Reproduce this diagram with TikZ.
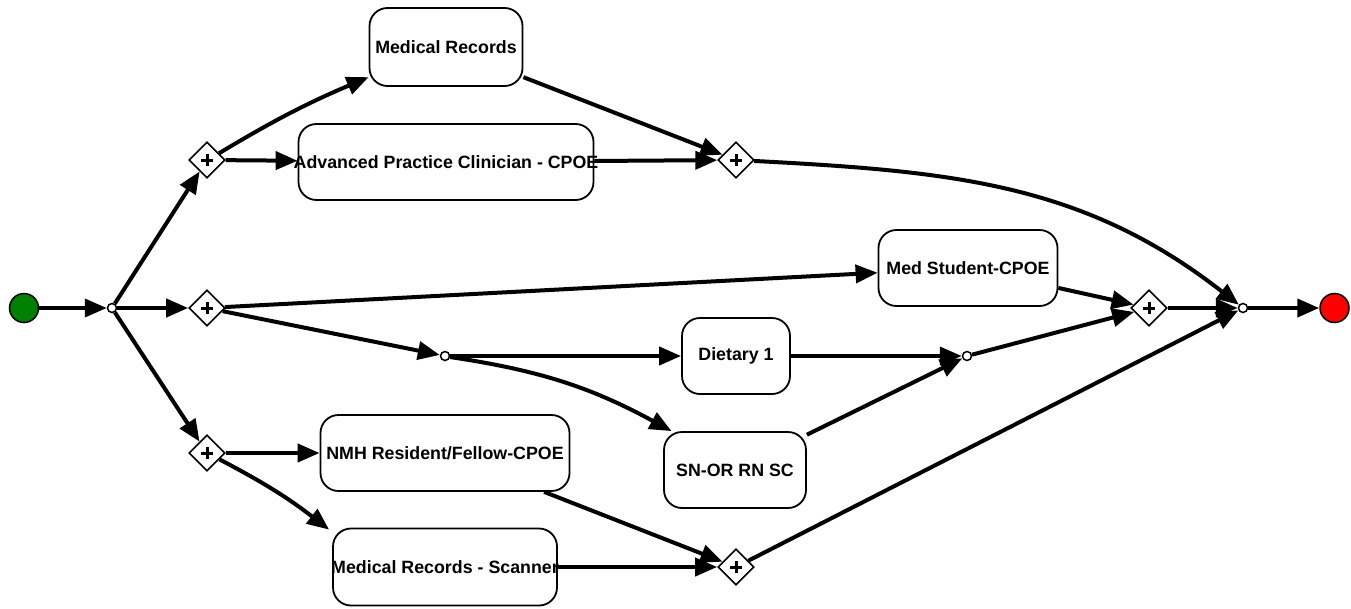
\documentclass[tikz,border=0pt]{standalone}
\usepackage{fontspec}
\setmainfont{Liberation Sans}
\usetikzlibrary{shapes.geometric, arrows.meta, positioning}
\definecolor{startgreen}{HTML}{008000}
\definecolor{endred}{HTML}{FF0000}
\definecolor{flowblack}{HTML}{000000}
\tikzset{
  taskbox/.style={rectangle, draw=black, fill=white, line width=1.8pt,
                  rounded corners=18pt, minimum height=76pt, inner sep=0pt,
                  align=center, font=\fontsize{17.8}{20}\selectfont\bfseries},
  gateway/.style={diamond, draw=black, fill=white, line width=1.6pt,
                  minimum width=36pt, minimum height=36pt, inner sep=0pt,
                  path picture={
                    \draw[line width=3pt]
                      ([xshift=-6pt]path picture bounding box.center) --
                      ([xshift=6pt]path picture bounding box.center)
                      ([yshift=-6pt]path picture bounding box.center) --
                      ([yshift=6pt]path picture bounding box.center);}},
  junction/.style={circle, draw=black, fill=white, line width=1.5pt,
                   minimum size=9pt, inner sep=0pt},
  startev/.style={circle, draw=black, fill=startgreen, line width=1.5pt,
                  minimum size=29pt, inner sep=0pt},
  endev/.style={circle, draw=black, fill=endred, line width=1.5pt,
                minimum size=29pt, inner sep=0pt},
  flow/.style={-{Triangle[length=22pt,width=18pt]}, line width=4pt, draw=flowblack},
}
\begin{document}
\begin{tikzpicture}[x=1pt, y=1pt]
  \useasboundingbox (0,0) rectangle (1351,-608);

  % --- entry: start event and first split ---
  \node[startev] (start) at (24,-308) {};
  \node[junction] (split) at (112,-308) {};
  \node[gateway] (gtop) at (207,-160) {};
  \node[gateway] (gmid) at (207,-308) {};
  \node[gateway] (gbot) at (207,-453) {};

  % --- upper branch ---
  \node[taskbox, minimum width=153pt, minimum height=78pt] (medrec) at (446,-47) {Medical Records};
  \node[taskbox, minimum width=295pt] (apc) at (446,-162)
       {\makebox[0pt]{Advanced Practice Clinician - CPOE}};
  \node[gateway] (gtopjoin) at (736,-160) {};

  % --- middle branch ---
  \node[taskbox, minimum width=179pt] (medstud) at (968,-268) {Med Student-CPOE};
  \node[junction] (midsplit) at (445,-356) {};
  \node[taskbox, minimum width=108pt] (dietary) at (736,-356) {Dietary 1};
  \node[taskbox, minimum width=142pt] (snor) at (735,-470) {SN-OR RN SC};
  \node[junction] (midmerge) at (967,-356) {};
  \node[gateway] (gmidjoin) at (1149,-308) {};

  % --- lower branch ---
  \node[taskbox, minimum width=249pt] (nmh) at (445,-453) {NMH Resident/Fellow-CPOE};
  \node[taskbox, minimum width=224pt, minimum height=77pt] (scanner) at (445,-567)
       {\makebox[0pt]{Medical Records - Scanner}};
  \node[gateway] (gbotjoin) at (736,-567) {};

  % --- exit ---
  \node[junction] (merge) at (1243,-308) {};
  \node[endev, right=71pt of merge] (finish) {};

  % Flows
  \draw[flow] (start) -- (split);
  \draw[flow] (split) -- (gtop);
  \draw[flow] (split) -- (gmid);
  \draw[flow] (split) -- (gbot);

  \draw[flow] (gtop) to[bend left=4] (medrec);
  \draw[flow] (gtop) -- (apc);
  \draw[flow] (medrec) -- (gtopjoin);
  \draw[flow] (apc) -- (gtopjoin);
  \draw[flow] (gtopjoin) to[out=-3, in=142] (merge);

  \draw[flow] (gmid) -- (medstud);
  \draw[flow] (gmid) -- (midsplit);
  \draw[flow] (midsplit) -- (dietary);
  \draw[flow] (midsplit) to[bend left=10] (snor);
  \draw[flow] (dietary) -- (midmerge);
  \draw[flow] (snor) -- (midmerge);
  \draw[flow] (medstud) -- (gmidjoin);
  \draw[flow] (midmerge) -- (gmidjoin);
  \draw[flow] (gmidjoin) -- (merge);

  \draw[flow] (gbot) -- (nmh);
  \draw[flow] (gbot) to[bend left=5] ([xshift=-3pt,yshift=-2pt]scanner.north west);
  \draw[flow] (nmh) -- (gbotjoin);
  \draw[flow] (scanner) -- (gbotjoin);
  \draw[flow] (gbotjoin) -- (merge);

  \draw[flow] (merge) -- (finish);

\end{tikzpicture}
\end{document}
